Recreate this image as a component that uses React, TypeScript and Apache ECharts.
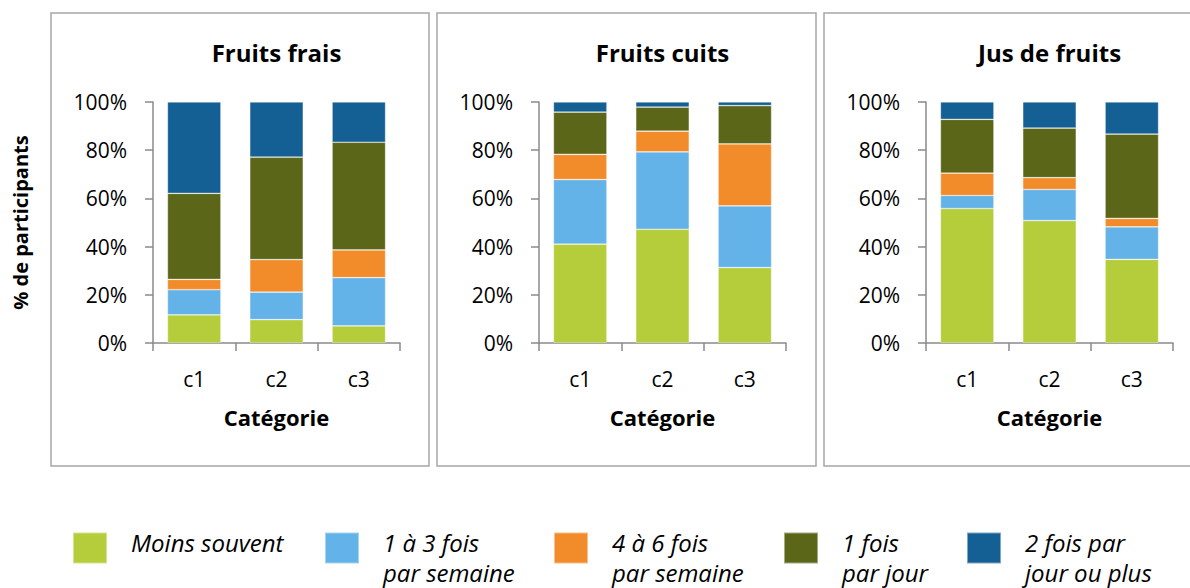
import React, { useEffect, useRef } from "react";
import * as echarts from "echarts";

const categories = ["c1", "c2", "c3"];
const panelTitles = ["Fruits frais", "Fruits cuits", "Jus de fruits"];
const seriesNames = [
  "Moins souvent",
  "1 à 3 fois par semaine",
  "4 à 6 fois par semaine",
  "1 fois par jour",
  "2 fois par jour ou plus",
];
const legendLine1 = ["Moins souvent", "1 à 3 fois", "4 à 6 fois", "1 fois", "2 fois par"];
const legendLine2 = [" ", "par semaine", "par semaine", "par jour", "jour ou plus"];
const seriesColors = ["#B5CD3A", "#63B2E8", "#F28C2B", "#5B6619", "#145F93"];
const yTicks = [0, 20, 40, 60, 80, 100];

// Fruits frais
const fraisMoins = [11.7, 9.7, 7.1];
const frais1a3 = [10.4, 11.4, 20.0];
const frais4a6 = [4.3, 13.5, 11.5];
const frais1jour = [35.7, 42.5, 44.7];
const frais2plus = [37.9, 22.9, 16.7];

// Fruits cuits
const cuitsMoins = [41.0, 47.2, 31.3];
const cuits1a3 = [26.8, 32.1, 25.6];
const cuits4a6 = [10.5, 8.6, 25.7];
const cuits1jour = [17.5, 10.0, 15.9];
const cuits2plus = [4.2, 2.1, 1.5];

// Jus de fruits
const jusMoins = [55.8, 50.8, 34.7];
const jus1a3 = [5.4, 12.9, 13.5];
const jus4a6 = [9.3, 4.9, 3.5];
const jus1jour = [22.3, 20.6, 35.0];
const jus2plus = [7.2, 10.8, 13.3];

const panelData = [
  [fraisMoins, frais1a3, frais4a6, frais1jour, frais2plus],
  [cuitsMoins, cuits1a3, cuits4a6, cuits1jour, cuits2plus],
  [jusMoins, jus1a3, jus4a6, jus1jour, jus2plus],
];

const FONT = "'Open Sans', 'Noto Sans', sans-serif";
const AXIS_COLOR = "#8a8a8a";

export default function App() {
  const ref = useRef<HTMLDivElement>(null);

  useEffect(() => {
    if (!ref.current) return;
    const chart = echarts.init(ref.current, undefined, { renderer: "svg" });

    const gridLefts = [153, 539, 926];
    const gridWidth = 247;
    const gridTop = 102;
    const gridHeight = 241;
    const panelBoxes = [
      [51, 429],
      [437, 816],
      [824, 1210],
    ];
    const legendLefts = [72, 324, 553, 783, 966];

    const grid = gridLefts.map((l) => ({
      left: l,
      top: gridTop,
      width: gridWidth,
      height: gridHeight,
      containLabel: false,
    }));

    const xAxis = gridLefts.map((_, i) => ({
      type: "category",
      gridIndex: i,
      data: categories,
      name: "Catégorie",
      nameLocation: "middle",
      nameGap: 63,
      nameTextStyle: { fontFamily: FONT, fontSize: 22, fontWeight: "bold", color: "#000" },
      axisLine: { show: true, lineStyle: { color: AXIS_COLOR, width: 1.5 } },
      axisTick: { show: true, length: 8, lineStyle: { color: AXIS_COLOR, width: 1.5 } },
      axisLabel: { fontFamily: FONT, fontSize: 21, color: "#000", margin: 25 },
      splitLine: { show: false },
    }));

    const yAxis = gridLefts.map((_, i) => ({
      type: "value",
      gridIndex: i,
      min: yTicks[0],
      max: yTicks[yTicks.length - 1],
      interval: 20,
      name: i === 0 ? "% de participants" : "",
      nameLocation: "middle",
      nameGap: 123,
      nameTextStyle: { fontFamily: FONT, fontSize: 20, fontWeight: "bold", color: "#000" },
      axisLine: { show: true, lineStyle: { color: AXIS_COLOR, width: 1.5 } },
      axisTick: { show: true, length: 8, lineStyle: { color: AXIS_COLOR, width: 1.5 } },
      axisLabel: {
        fontFamily: FONT,
        fontSize: 21,
        color: "#000",
        margin: 26,
        formatter: "{value}%",
      },
      splitLine: { show: false },
    }));

    const series: any[] = [];
    panelData.forEach((panel, p) => {
      panel.forEach((vals, s) => {
        series.push({
          type: "bar",
          name: seriesNames[s],
          xAxisIndex: p,
          yAxisIndex: p,
          stack: "panel" + p,
          data: vals,
          barWidth: "65%",
          itemStyle: {
            color: seriesColors[s],
            borderColor: "rgba(255,255,255,0.45)",
            borderWidth: 0.7,
          },
          emphasis: { disabled: true },
        });
      });
    });

    const legend = seriesNames.map((n, i) => ({
      data: [n],
      left: legendLefts[i],
      top: 515,
      orient: "horizontal",
      padding: 0,
      itemGap: 0,
      itemWidth: 34,
      itemHeight: 31,
      icon: "rect",
      selectedMode: false,
      formatter: () =>
        "{s| }\n{a|" + legendLine1[i] + "}\n{b|" + legendLine2[i] + "}",
      textStyle: {
        fontFamily: FONT,
        fontStyle: "italic",
        fontSize: 24,
        color: "#000",
        padding: [0, 0, 0, 19],
        rich: {
          s: { fontSize: 6, lineHeight: 12 },
          a: {
            fontFamily: FONT,
            fontStyle: "italic",
            fontSize: 24,
            lineHeight: 36,
            color: "#000",
          },
          b: {
            fontFamily: FONT,
            fontStyle: "italic",
            fontSize: 24,
            lineHeight: 24,
            color: "#000",
          },
        },
      },
    }));

    const graphic: any[] = [];
    panelBoxes.forEach(([x1, x2]) => {
      graphic.push({
        type: "rect",
        shape: { x: x1, y: 13, width: x2 - x1, height: 453 },
        style: { fill: "none", stroke: "#a6a6a6", lineWidth: 1.5 },
        silent: true,
      });
    });
    panelTitles.forEach((t, i) => {
      graphic.push({
        type: "text",
        x: gridLefts[i] + gridWidth / 2,
        y: 52,
        style: {
          text: t,
          align: "center",
          verticalAlign: "middle",
          fontFamily: FONT,
          fontSize: 24,
          fontWeight: "bold",
          fill: "#000",
        },
        silent: true,
      });
    });

    chart.setOption({
      animation: false,
      backgroundColor: "#fff",
      grid,
      xAxis,
      yAxis,
      series,
      legend,
      graphic,
    });

    return () => chart.dispose();
  }, []);

  return (
    <div
      ref={ref}
      style={{ position: "absolute", left: 0, top: 0, width: 1190, height: 588 }}
    />
  );
}
